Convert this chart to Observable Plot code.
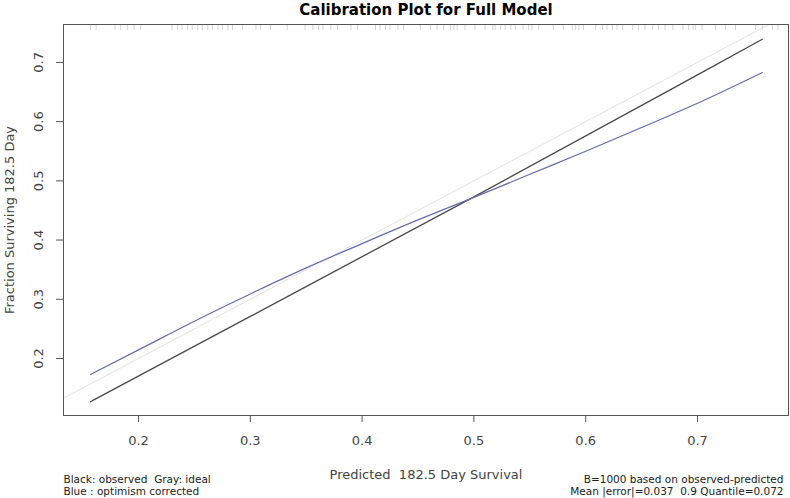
<!DOCTYPE html>
<html>
<head>
<meta charset="utf-8">
<script src="https://cdn.jsdelivr.net/npm/d3@7"></script>
<script src="https://cdn.jsdelivr.net/npm/@observablehq/plot@0.6"></script>
<style>
  html, body { margin: 0; padding: 0; background: #fff; }
</style>
</head>
<body>
<div id="chart"></div>
<script>
const titleText = "Calibration Plot for Full Model";
const xLabel = "Predicted  182.5 Day Survival";
const yLabel = "Fraction Surviving 182.5 Day";
const noteLeft = ["Black: observed  Gray: ideal", "Blue : optimism corrected"];
const noteRight = ["B=1000 based on observed-predicted", "Mean |error|=0.037  0.9 Quantile=0.072"];

const xTicks = [0.2, 0.3, 0.4, 0.5, 0.6, 0.7];
const yTicks = [0.2, 0.3, 0.4, 0.5, 0.6, 0.7];

// apparent (observed) calibration curve
const observedX = [0.157, 0.3, 0.5, 0.7, 0.758];
const observedY = [0.127, 0.271, 0.473, 0.679, 0.739];

// optimism-corrected calibration curve
const correctedX = [0.157, 0.2, 0.25, 0.3, 0.35, 0.4, 0.45, 0.5, 0.55, 0.6, 0.65, 0.7, 0.758];
const correctedY = [0.173, 0.2145, 0.263, 0.309, 0.353, 0.394, 0.434, 0.472, 0.511, 0.55, 0.59, 0.631, 0.683];

// ideal line (y = x)
const idealX = [0.1, 0.8];

// rug of predicted values
const rug = [0.157,0.162,0.179,0.184,0.190,0.196,0.202,0.230,0.235,0.239,0.244,0.248,0.253,0.257,0.262,0.266,0.271,0.275,0.280,0.284,0.293,0.305,0.309,0.318,0.333,0.349,0.356,0.361,0.365,0.372,0.378,0.390,0.396,0.412,0.416,0.421,0.425,0.432,0.437,0.452,0.461,0.467,0.473,0.479,0.482,0.485,0.492,0.501,0.510,0.517,0.519,0.524,0.528,0.533,0.537,0.544,0.549,0.552,0.558,0.571,0.580,0.588,0.591,0.594,0.598,0.609,0.615,0.619,0.624,0.628,0.633,0.642,0.647,0.653,0.660,0.665,0.671,0.678,0.687,0.692,0.696,0.698,0.704,0.716,0.725,0.734,0.752,0.758,0.767,0.772];

const observed = observedX.map((x, i) => ({x, y: observedY[i]}));
const corrected = correctedX.map((x, i) => ({x, y: correctedY[i]}));

const chart = Plot.plot({
  width: 790,
  height: 498,
  marginLeft: 63,
  marginRight: 2,
  marginTop: 24,
  marginBottom: 83,
  style: {fontFamily: "DejaVu Sans", background: "#fff", color: "#333"},
  x: {domain: [0.1329, 0.7814]},
  y: {domain: [0.1037, 0.764]},
  marks: [
    Plot.ruleX(rug, {x: d => d, stroke: "#d4d4d4", strokeWidth: 1, insetBottom: 385}),
    Plot.line(idealX, {x: d => d, y: d => d, stroke: "#e2e2e2", strokeWidth: 1, clip: true}),
    Plot.line(observed, {x: "x", y: "y", curve: "monotone-x", stroke: "#4a4a4a", strokeWidth: 1.3}),
    Plot.line(corrected, {x: "x", y: "y", curve: "monotone-x", stroke: "#6a6aae", strokeWidth: 1.2}),
    Plot.frame({stroke: "#555"}),
    Plot.axisX({ticks: xTicks, tickSize: 7, tickPadding: 13, fontSize: 13, label: null, stroke: "#555", fill: "#444", tickFormat: d => String(d)}),
    Plot.axisY({ticks: yTicks, tickSize: 7, label: null, stroke: "#555", tickFormat: () => ""}),
    Plot.text(yTicks, {frameAnchor: "left", y: d => d, text: d => String(d), rotate: -90, textAnchor: "middle", lineAnchor: "middle", dx: -25, fontSize: 13, fill: "#444"}),
    Plot.text([titleText], {frameAnchor: "top", dy: -10, lineAnchor: "bottom", fontWeight: "bold", fontSize: 15, fill: "#000"}),
    Plot.text([xLabel], {frameAnchor: "bottom", dy: 59, lineAnchor: "middle", fontSize: 13, fill: "#444"}),
    Plot.text([yLabel], {frameAnchor: "left", dx: -54, rotate: -90, textAnchor: "middle", lineAnchor: "middle", fontSize: 13, fill: "#444"}),
    Plot.text([noteLeft[0]], {frameAnchor: "bottom-left", dy: 64, textAnchor: "start", lineAnchor: "middle", fontSize: 10.5, fill: "#222"}),
    Plot.text([noteLeft[1]], {frameAnchor: "bottom-left", dy: 76, textAnchor: "start", lineAnchor: "middle", fontSize: 10.5, fill: "#222"}),
    Plot.text([noteRight[0]], {frameAnchor: "bottom-right", dx: -5, dy: 64, textAnchor: "end", lineAnchor: "middle", fontSize: 10.5, fill: "#222"}),
    Plot.text([noteRight[1]], {frameAnchor: "bottom-right", dx: -5, dy: 76, textAnchor: "end", lineAnchor: "middle", fontSize: 10.5, fill: "#222"})
  ]
});
document.getElementById("chart").appendChild(chart);
</script>
</body>
</html>
